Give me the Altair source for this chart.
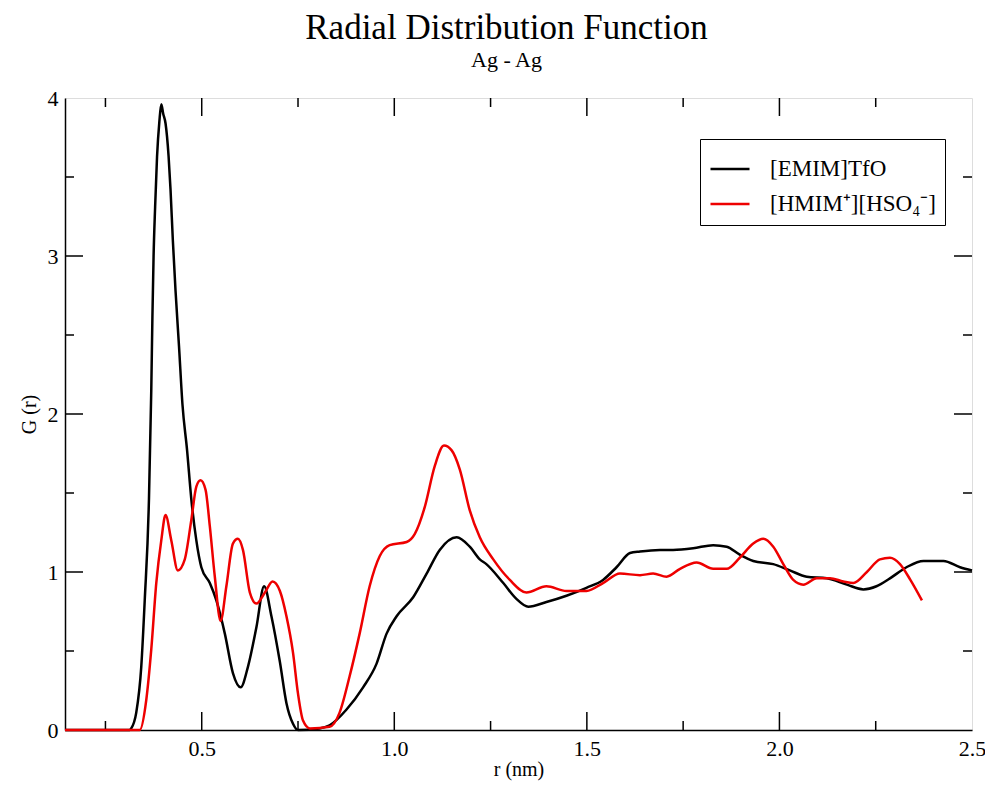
import altair as alt
import pandas as pd

# ---- data ----
black_r = [0.145, 0.313, 0.317, 0.330, 0.343, 0.352, 0.363, 0.369, 0.372, 0.375, 0.379, 0.384, 0.390,
           0.395, 0.400, 0.406, 0.414, 0.419, 0.425, 0.432, 0.441, 0.450, 0.462, 0.473, 0.486, 0.499,
           0.521, 0.538, 0.560, 0.581, 0.601, 0.620, 0.642, 0.662, 0.681, 0.703, 0.720, 0.737, 0.750,
           0.806, 0.832, 0.876, 0.919, 0.954, 0.980, 1.006, 1.049, 1.084, 1.118, 1.162, 1.196, 1.222,
           1.239, 1.283, 1.317, 1.348, 1.395, 1.447, 1.499, 1.542, 1.577, 1.612, 1.638, 1.690, 1.724,
           1.776, 1.828, 1.863, 1.897, 1.932, 1.984, 2.027, 2.071, 2.123, 2.175, 2.218, 2.252, 2.287,
           2.330, 2.374, 2.426, 2.469, 2.500]
black_g = [0.00, 0.00, 0.01, 0.11, 0.40, 0.82, 1.46, 2.15, 2.62, 3.00, 3.31, 3.63, 3.85,
           3.96, 3.90, 3.84, 3.63, 3.42, 3.10, 2.78, 2.43, 2.06, 1.77, 1.46, 1.20, 1.03,
           0.93, 0.82, 0.61, 0.36, 0.27, 0.40, 0.65, 0.91, 0.72, 0.43, 0.17, 0.04, 0.00,
           0.01, 0.03, 0.13, 0.27, 0.42, 0.61, 0.72, 0.84, 0.99, 1.14, 1.22, 1.16, 1.08,
           1.05, 0.93, 0.83, 0.78, 0.81, 0.85, 0.90, 0.95, 1.03, 1.12, 1.13, 1.14, 1.14,
           1.15, 1.17, 1.16, 1.11, 1.07, 1.05, 1.01, 0.97, 0.96, 0.92, 0.89, 0.91, 0.96,
           1.03, 1.07, 1.07, 1.03, 1.01]

red_r = [0.145, 0.339, 0.356, 0.369, 0.382, 0.395, 0.406, 0.421, 0.438, 0.456, 0.473, 0.486, 0.497,
         0.510, 0.521, 0.534, 0.549, 0.564, 0.581, 0.594, 0.607, 0.625, 0.642, 0.664, 0.684, 0.703,
         0.720, 0.737, 0.750, 0.763, 0.781, 0.832, 0.858, 0.884, 0.910, 0.936, 0.962, 0.988, 1.032,
         1.053, 1.079, 1.105, 1.129, 1.149, 1.170, 1.196, 1.222, 1.257, 1.300, 1.343, 1.395, 1.447,
         1.499, 1.542, 1.586, 1.638, 1.672, 1.707, 1.742, 1.785, 1.828, 1.863, 1.897, 1.932, 1.958,
         1.984, 2.010, 2.036, 2.062, 2.097, 2.131, 2.166, 2.192, 2.227, 2.261, 2.287, 2.313, 2.340,
         2.370]
red_g = [0.00, 0.00, 0.19, 0.51, 0.93, 1.20, 1.36, 1.20, 1.01, 1.08, 1.33, 1.54, 1.58,
         1.52, 1.29, 0.97, 0.69, 0.91, 1.18, 1.21, 1.14, 0.87, 0.80, 0.87, 0.94, 0.88,
         0.72, 0.49, 0.23, 0.06, 0.01, 0.02, 0.11, 0.34, 0.61, 0.91, 1.10, 1.17, 1.19,
         1.24, 1.41, 1.67, 1.80, 1.77, 1.65, 1.39, 1.22, 1.08, 0.95, 0.87, 0.91, 0.88,
         0.88, 0.93, 0.99, 0.98, 0.99, 0.97, 1.02, 1.06, 1.02, 1.02, 1.09, 1.18, 1.21,
         1.16, 1.05, 0.95, 0.92, 0.96, 0.96, 0.94, 0.93, 1.00, 1.08, 1.09, 1.05, 0.95,
         0.82]

series_names = ["[EMIM]TfO", "[HMIM\u207a][HSO\u2084\u207b]"]
series_colors = ["#000000", "#ee0000"]

x_major = [0.5, 1.0, 1.5, 2.0]
x_minor = [0.25, 0.75, 1.25, 1.75, 2.25]
x_labels = [0.5, 1.0, 1.5, 2.0, 2.5]
y_major = [1, 2, 3]
y_minor = [0.5, 1.5, 2.5, 3.5]
y_labels = [0, 1, 2, 3, 4]

W, H = 907, 632
FONT = "Liberation Serif"
MAJ, MIN = 18, 9

df_black = pd.DataFrame({"r": black_r, "G": black_g, "series": series_names[0]})
df_red = pd.DataFrame({"r": red_r, "G": red_g, "series": series_names[1]})

xscale = alt.Scale(domain=[0.145, 2.5], nice=False, zero=False)
yscale = alt.Scale(domain=[0, 4], nice=False, zero=True)
cscale = alt.Scale(domain=series_names, range=series_colors)

xaxis = alt.Axis(title="r (nm)", values=x_labels, format=".1f", grid=False, ticks=False, tickSize=0,
                 labelFont=FONT, labelFontSize=22, labelColor="black", labelPadding=8,
                 titleFont=FONT, titleFontSize=20, titleFontWeight="normal", titleColor="black",
                 titlePadding=0, domainColor="black", domainWidth=1.5, labelFlush=False)
yaxis = alt.Axis(title="G (r)", values=y_labels, format="d", grid=False, ticks=False, tickSize=0,
                 labelFont=FONT, labelFontSize=22, labelColor="black", labelPadding=7,
                 titleFont=FONT, titleFontSize=20, titleFontWeight="normal", titleColor="black",
                 titlePadding=8, domainColor="black", domainWidth=1.5, labelFlush=False)

legend = alt.Legend(title=None, orient="none", legendX=635, legendY=41, strokeColor="black",
                    fillColor="white", padding=9, symbolType="stroke", symbolSize=1521,
                    symbolStrokeWidth=2.5, labelFont=FONT, labelFontSize=23, labelColor="black",
                    labelOffset=19, rowPadding=2, labelLimit=400)

black_line = alt.Chart(df_black).mark_line(strokeWidth=2.5, interpolate="monotone").encode(
    x=alt.X("r:Q", scale=xscale, axis=xaxis),
    y=alt.Y("G:Q", scale=yscale, axis=yaxis),
    color=alt.Color("series:N", scale=cscale, legend=legend),
)
red_line = alt.Chart(df_red).mark_line(strokeWidth=2.5, interpolate="monotone").encode(
    x=alt.X("r:Q", scale=xscale, axis=xaxis),
    y=alt.Y("G:Q", scale=yscale, axis=yaxis),
    color=alt.Color("series:N", scale=cscale, legend=legend),
)


def xticks(vals, y0, y1):
    return alt.Chart(pd.DataFrame({"r": vals})).mark_rule(color="black", strokeWidth=1.5).encode(
        x=alt.X("r:Q", scale=xscale, axis=xaxis), y=alt.value(y0), y2=alt.value(y1))


def yticks(vals, x0, x1):
    return alt.Chart(pd.DataFrame({"G": vals})).mark_rule(color="black", strokeWidth=1.5).encode(
        y=alt.Y("G:Q", scale=yscale, axis=yaxis), x=alt.value(x0), x2=alt.value(x1))


ticks = [
    xticks(x_major, H, H - MAJ), xticks(x_minor, H, H - MIN),
    xticks(x_major, 0, MAJ), xticks(x_minor, 0, MIN),
    yticks(y_major, 0, MAJ), yticks(y_minor, 0, MIN),
    yticks(y_major, W, W - MAJ), yticks(y_minor, W, W - MIN),
]

chart = alt.layer(*ticks, black_line, red_line).properties(
    width=W, height=H,
    title=alt.TitleParams(text="Radial Distribution Function", subtitle="Ag - Ag",
                          font=FONT, fontSize=35, fontWeight="normal", color="black",
                          subtitleFont=FONT, subtitleFontSize=22, subtitleColor="black",
                          subtitlePadding=4, anchor="middle", offset=16, dx=-12),
    autosize=alt.AutoSizeParams(type="none"),
    padding={"left": 57, "top": 90, "right": 13, "bottom": 53},
).configure_view(stroke="black", strokeWidth=1.5).configure(background="white")

chart.save("out.html", embed_options={"renderer": "svg", "actions": False})
